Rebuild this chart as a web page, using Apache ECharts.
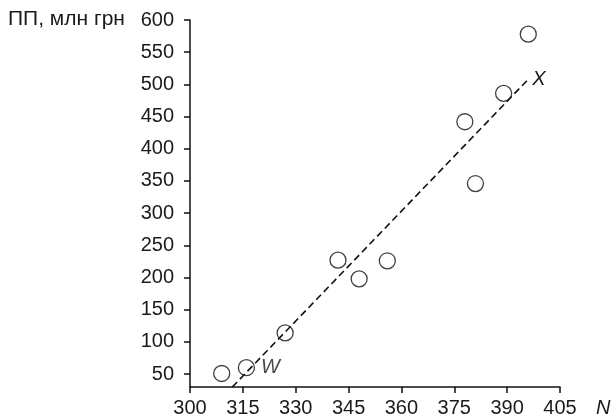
<!DOCTYPE html>
<html><head><meta charset="utf-8">
<script src="https://cdn.jsdelivr.net/npm/echarts@6/dist/echarts.min.js"></script>
<style>html,body{margin:0;padding:0;background:#fff}#c{width:612px;height:418px}</style>
</head><body><div id="c"></div>
<script>
var xValues = [309, 316, 327, 342, 348, 356, 378, 381, 389, 396];
var yValues = [51, 60, 114, 227, 198, 226, 442, 346, 486, 578];
var pointLabels = ['', 'W', '', '', '', '', '', '', '', ''];
var trendX = [312, 396];
var trendY = [30, 508];
var trendEndLabel = 'X';
var yTicks = [50, 100, 150, 200, 250, 300, 350, 400, 450, 500, 550, 600];
var yTitle = 'ПП, млн грн';
var xTitle = 'N';

var font = '"Liberation Sans", Arial, Helvetica, sans-serif';
var fs = 20;
var chart = echarts.init(document.getElementById('c'));
chart.setOption({
  animation: false,
  backgroundColor: '#fff',
  textStyle: { fontFamily: font },
  grid: { left: 190, right: 52, top: 20, bottom: 30, containLabel: false },
  xAxis: {
    type: 'value', min: 300, max: 405, interval: 15,
    axisLine: { lineStyle: { color: '#111', width: 1.5 } },
    axisTick: { inside: false, length: 6, lineStyle: { color: '#111', width: 1.5 } },
    axisLabel: { fontSize: fs, color: '#1a1a1a', margin: 11, fontFamily: font },
    splitLine: { show: false }
  },
  yAxis: {
    type: 'value', min: 30, max: 600,
    axisLine: { show: true, lineStyle: { color: '#111', width: 1.5 } },
    axisTick: { show: true, length: 6, customValues: yTicks, lineStyle: { color: '#111', width: 1.5 } },
    axisLabel: { fontSize: fs, color: '#1a1a1a', margin: 16, customValues: yTicks, fontFamily: font },
    splitLine: { show: false }
  },
  graphic: [{
    type: 'text', left: 8, top: 9,
    style: { text: yTitle, fontSize: 21, fill: '#1a1a1a', fontFamily: font }
  }, {
    type: 'text', left: 596, top: 398,
    style: { text: xTitle, fontSize: fs, fontStyle: 'italic', fill: '#1a1a1a', fontFamily: font }
  }],
  series: [{
    type: 'line',
    data: trendX.map(function (x, i) { return [x, trendY[i]]; }),
    symbol: 'none',
    lineStyle: { color: '#111', width: 1.6, type: [7, 4] },
    endLabel: { show: true, formatter: trendEndLabel, distance: 4, fontSize: fs, fontStyle: 'italic', color: '#1a1a1a', fontFamily: font },
    z: 2
  }, {
    type: 'scatter',
    data: xValues.map(function (x, i) { return { value: [x, yValues[i]], label: { show: !!pointLabels[i], formatter: pointLabels[i] } }; }),
    symbol: 'circle', symbolSize: 16,
    itemStyle: { color: 'rgba(255,255,255,0)', borderColor: '#111', borderWidth: 1.3 },
    label: { position: 'right', distance: 6, fontSize: fs, fontStyle: 'italic', color: '#1a1a1a', fontFamily: font },
    z: 3
  }]
});
</script></body></html>
